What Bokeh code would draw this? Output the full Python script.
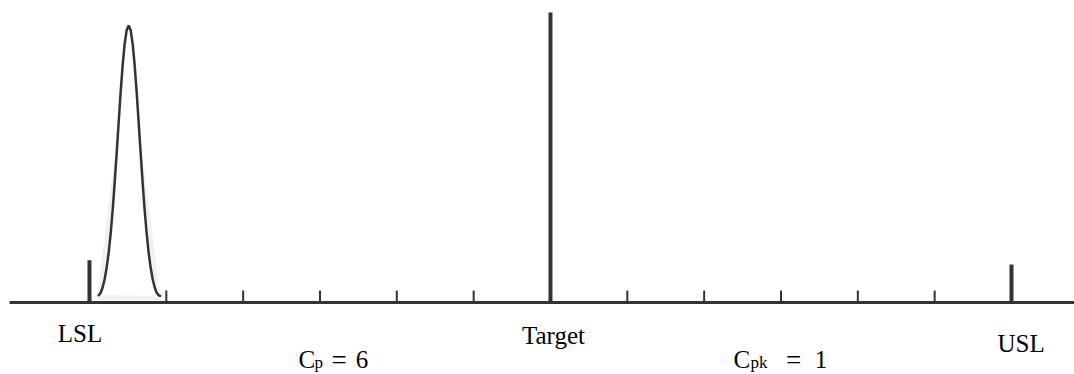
from bokeh.plotting import figure
from bokeh.models import Range1d
from bokeh.embed import file_html
from bokeh.resources import INLINE
from bokeh.core.properties import value

# ---- data (spec units: LSL=-6, Target=0, USL=6) ----
spec_names = ["LSL", "Target", "USL"]
spec_values = [-6, 0, 6]
spec_heights = [15.2, 104.7, 13.7]
tick_positions = [-5, -4, -3, -2, -1, 1, 2, 3, 4, 5]
tick_height = 4.3

curve_x = [-5.880, -5.854, -5.828, -5.802, -5.776, -5.750, -5.724, -5.698, -5.672,
           -5.646, -5.620, -5.594, -5.568, -5.542, -5.516, -5.490, -5.464, -5.438,
           -5.412, -5.386, -5.360, -5.334, -5.308, -5.282, -5.256, -5.230, -5.204,
           -5.178, -5.152, -5.126, -5.100, -5.080]
curve_y = [2.6, 3.5, 5.5, 8.5, 12.6, 18.0, 24.9, 33.4, 43.2, 53.9, 65.1, 76.0, 85.7,
           93.4, 98.3, 100.0, 98.3, 93.4, 85.7, 76.0, 65.1, 53.9, 43.2, 33.4, 24.9,
           18.0, 12.6, 8.5, 5.5, 3.5, 2.6, 2.4]

shadow_x = [-5.906, -5.880, -5.828, -5.744, -5.626, -5.528, -5.490, -5.450, -5.353,
            -5.236, -5.151, -5.099, -5.073]
shadow_y = [1.0, 6.0, 18.0, 37.0, 62.0, 90.0, 95.0, 90.0, 62.0, 37.0, 18.0, 6.0, 1.0]

cap_names = ["C", "C"]
cap_subs = ["p", "pk"]
cap_values = ["6", "1"]

DARK = "#333333"
FONT = value("Liberation Serif")

p = figure(width=1074, height=374, output_backend="svg", toolbar_location=None,
           x_range=Range1d(-7.158, 6.820), y_range=Range1d(-26.0, 109.0),
           x_axis_location=None, y_axis_location=None, min_border=0,
           outline_line_color=None, background_fill_color="white")
p.xgrid.visible = False
p.ygrid.visible = False

# faint halo, white interior, distribution curve
p.patch(shadow_x, shadow_y, fill_color="#f1f1f1", line_color=None)
p.patch(curve_x, curve_y, fill_color="white", line_color=None)
p.line(curve_x, curve_y, line_color=DARK, line_width=2.5, line_cap="round")

# baseline axis
p.segment(x0=[-7.041], y0=[0], x1=[6.82], y1=[0], line_color=DARK, line_width=3)

# minor ticks
p.segment(x0=tick_positions, y0=[0] * len(tick_positions), x1=tick_positions,
          y1=[tick_height] * len(tick_positions), line_color=DARK, line_width=2)

# spec lines
p.segment(x0=spec_values, y0=[0] * 3, x1=spec_values, y1=spec_heights,
          line_color=DARK, line_width=4)

# spec labels
label_dx = [-0.124, 0.039, 0.126]
label_y = [-11.2, -11.9, -14.8]
p.text(x=[v + d for v, d in zip(spec_values, label_dx)], y=label_y, text=spec_names,
       text_font=FONT, text_font_size="25px", text_align="center",
       text_baseline="alphabetic", text_color="black")

# capability labels
row_y = -20.6
p.text(x=[-3.280, 2.382], y=[row_y, row_y], text=cap_names, text_font=FONT,
       text_font_size="25px", text_align="left", text_baseline="alphabetic",
       text_color="black")
p.text(x=[-3.072, 2.603], y=[row_y - 1.2, row_y - 1.2], text=cap_subs, text_font=FONT,
       text_font_size="17px", text_align="left", text_baseline="alphabetic",
       text_color="black")
p.text(x=[-2.850, 3.065], y=[row_y, row_y], text=["=", "="], text_font=FONT,
       text_font_size="27px", text_align="left", text_baseline="alphabetic",
       text_color="black")
p.text(x=[-2.535, 3.440], y=[row_y, row_y], text=cap_values, text_font=FONT,
       text_font_size="25px", text_align="left", text_baseline="alphabetic",
       text_color="black")

open("out.html", "w").write(file_html(p, INLINE))
